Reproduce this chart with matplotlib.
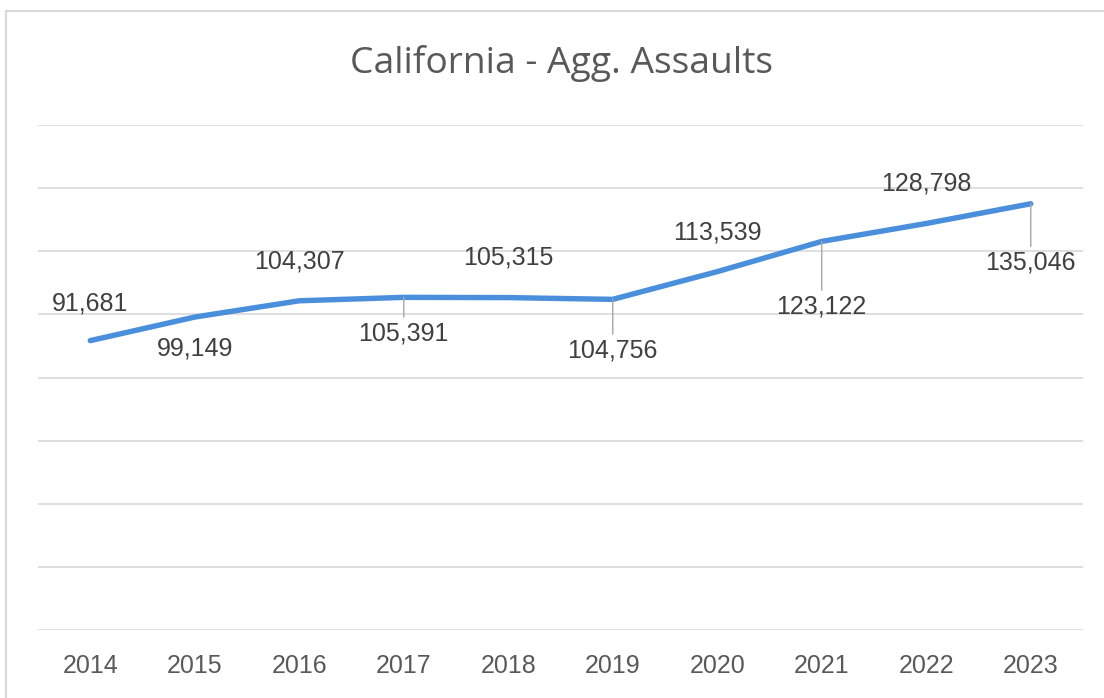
import matplotlib.pyplot as plt
from matplotlib.patches import Rectangle

years = ['2014', '2015', '2016', '2017', '2018', '2019', '2020', '2021', '2022', '2023']
assaults = [91681, 99149, 104307, 105391, 105315, 104756, 113539, 123122, 128798, 135046]

# label offsets in pixels (dx, dy), and whether a leader line is drawn
label_offsets = [(0, 37), (0, -31), (0, 39), (0, -36), (0, 40), (0, -51), (0, 39), (0, -65), (0, 40), (0, -59)]
leaders = [False, False, False, True, False, True, False, True, False, True]

W, H = 1104, 698
fig = plt.figure(figsize=(W / 100, H / 100), dpi=100)
ax = fig.add_axes([38 / W, (H - 630) / H, (1083 - 38) / W, (630 - 125) / H])

x = list(range(len(years)))
ax.plot(x, assaults, color='#4a8fdb', lw=3.9, solid_capstyle='round', solid_joinstyle='round', zorder=3)

ax.set_xlim(-0.5, len(years) - 0.5)
ax.set_ylim(0, 160000)
ax.set_yticks(range(0, 160001, 20000))
ax.set_yticklabels([])
ax.grid(axis='y', color='#d9d9d9', lw=1.2)
ax.set_axisbelow(True)
for s in ax.spines.values():
    s.set_visible(False)
ax.tick_params(axis='both', length=0)
ax.set_xticks(x)
ax.set_xticklabels(years, fontsize=18, color='#595959', family='Liberation Sans')
ax.tick_params(axis='x', pad=17)

for i, v in enumerate(assaults):
    dx, dy = label_offsets[i]
    kw = {}
    if leaders[i]:
        kw['arrowprops'] = dict(arrowstyle='-', color='#a6a6a6', lw=1.0, shrinkA=1, shrinkB=0,
                                relpos=(0.5, 1.0))
    ax.annotate(f'{v:,}', (i, v), xytext=(dx, dy), textcoords='offset pixels',
                ha='center', va='center', fontsize=18, color='#404040',
                family='Liberation Sans', **kw)

fig.text(561 / W, 1 - 64 / H, 'California - Agg. Assaults', ha='center', va='center',
         fontsize=26.8, color='#595959', family='Open Sans')

fig.patches.append(Rectangle((6 / W, -0.05), 1.1, (H - 11) / H + 0.05, transform=fig.transFigure,
                             fill=False, edgecolor='#d9d9d9', lw=1.5))

fig.savefig('out.png', dpi=100)
